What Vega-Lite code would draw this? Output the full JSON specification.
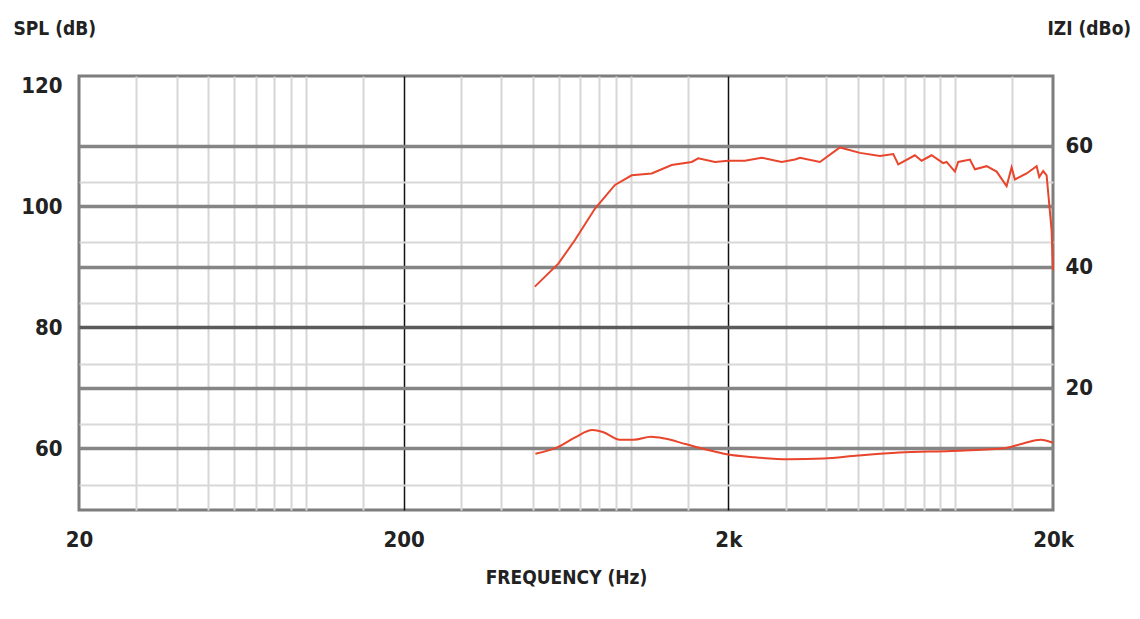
{
  "$schema": "https://vega.github.io/schema/vega-lite/v6.json",
  "width": 974,
  "height": 434,
  "autosize": "none",
  "padding": {"left": 79, "top": 76, "right": 87, "bottom": 109},
  "background": "white",
  "view": {"stroke": "#7d7d7d", "strokeWidth": 3},
  "config": {
    "font": "DejaVu Sans Condensed, Roboto, sans-serif",
    "axis": {
      "labelFont": "DejaVu Sans Condensed, Roboto, sans-serif",
      "labelFontWeight": "bold",
      "labelColor": "#222222",
      "labelFontSize": 22,
      "titleFont": "DejaVu Sans Condensed, Roboto, sans-serif",
      "titleFontWeight": "bold",
      "titleColor": "#222222",
      "titleFontSize": 19
    }
  },
  "datasets": {
    "spl": [
      {"freq": 507, "db": 86.7},
      {"freq": 599, "db": 90.5},
      {"freq": 674, "db": 94.4},
      {"freq": 777, "db": 99.6},
      {"freq": 895, "db": 103.5},
      {"freq": 1008, "db": 105.1},
      {"freq": 1161, "db": 105.4},
      {"freq": 1338, "db": 106.8},
      {"freq": 1542, "db": 107.3},
      {"freq": 1616, "db": 107.9},
      {"freq": 1819, "db": 107.3},
      {"freq": 1999, "db": 107.5},
      {"freq": 2250, "db": 107.5},
      {"freq": 2532, "db": 108.0},
      {"freq": 2918, "db": 107.3},
      {"freq": 3208, "db": 107.7},
      {"freq": 3324, "db": 108.0},
      {"freq": 3829, "db": 107.3},
      {"freq": 4413, "db": 109.7},
      {"freq": 5085, "db": 108.8},
      {"freq": 5860, "db": 108.3},
      {"freq": 6443, "db": 108.6},
      {"freq": 6675, "db": 106.9},
      {"freq": 7510, "db": 108.4},
      {"freq": 7875, "db": 107.5},
      {"freq": 8454, "db": 108.4},
      {"freq": 9180, "db": 107.1},
      {"freq": 9404, "db": 107.3},
      {"freq": 9975, "db": 105.7},
      {"freq": 10212, "db": 107.3},
      {"freq": 11096, "db": 107.7},
      {"freq": 11496, "db": 106.1},
      {"freq": 12490, "db": 106.6},
      {"freq": 13408, "db": 105.7},
      {"freq": 14392, "db": 103.3},
      {"freq": 14912, "db": 106.4},
      {"freq": 15266, "db": 104.4},
      {"freq": 16586, "db": 105.4},
      {"freq": 17806, "db": 106.6},
      {"freq": 18140, "db": 104.8},
      {"freq": 18658, "db": 105.8},
      {"freq": 19114, "db": 105.1},
      {"freq": 19804, "db": 96.0},
      {"freq": 20000, "db": 89.4}
    ],
    "impedance": [
      {"freq": 509, "z": 9.1},
      {"freq": 597, "z": 10.2},
      {"freq": 675, "z": 11.8},
      {"freq": 762, "z": 13.0},
      {"freq": 821, "z": 12.7},
      {"freq": 927, "z": 11.4},
      {"freq": 1023, "z": 11.4},
      {"freq": 1155, "z": 11.9},
      {"freq": 1274, "z": 11.6},
      {"freq": 1476, "z": 10.7},
      {"freq": 1709, "z": 9.8},
      {"freq": 1979, "z": 9.0},
      {"freq": 2407, "z": 8.5},
      {"freq": 3074, "z": 8.2},
      {"freq": 3924, "z": 8.3},
      {"freq": 5010, "z": 8.8},
      {"freq": 6720, "z": 9.3},
      {"freq": 9698, "z": 9.55},
      {"freq": 14000, "z": 9.95},
      {"freq": 16200, "z": 10.8},
      {"freq": 18316, "z": 11.4},
      {"freq": 20000, "z": 10.9}
    ]
  },
  "layer": [
    {
      "data": {"name": "spl"},
      "mark": {"type": "line", "color": "#e8452c", "strokeWidth": 2},
      "encoding": {
        "x": {
          "field": "freq",
          "type": "quantitative",
          "scale": {"type": "log", "domain": [20, 20000], "nice": false},
          "axis": {
            "title": "FREQUENCY (Hz)",
            "values": [20, 30, 40, 50, 60, 70, 80, 90, 100, 150, 200, 300, 400, 500, 600, 700, 800, 900, 1000, 1500, 2000, 3000, 4000, 5000, 6000, 7000, 8000, 9000, 10000, 15000, 20000],
            "labelExpr": "datum.value == 20 ? '20' : datum.value == 200 ? '200' : datum.value == 2000 ? '2k' : datum.value == 20000 ? '20k' : ''",
            "labelFlush": false,
            "labelOverlap": false,
            "labelPadding": 19,
            "ticks": false,
            "domain": false,
            "titlePadding": 18,
            "gridColor": {"condition": {"test": "datum.value == 200 || datum.value == 2000", "value": "#111111"}, "value": "#d6d6d6"},
            "gridWidth": {"condition": {"test": "datum.value == 200 || datum.value == 2000", "value": 1.5}, "value": 2},
            "gridOpacity": {"condition": {"test": "datum.value == 20 || datum.value == 20000", "value": 0}, "value": 1}
          }
        },
        "y": {
          "field": "db",
          "type": "quantitative",
          "scale": {"domain": [49.8, 121.5], "nice": false, "zero": false},
          "axis": {
            "title": "SPL (dB)",
            "titleAngle": 0,
            "titleAlign": "left",
            "titleBaseline": "middle",
            "titleX": -66,
            "titleY": -48,
            "values": [54, 60, 64, 70, 74, 80, 84, 90, 94, 100, 104, 110, 120],
            "labelExpr": "datum.value % 20 == 0 ? datum.label : ''",
            "labelOverlap": false,
            "labelPadding": 17,
            "ticks": false,
            "domain": false,
            "gridColor": {
              "condition": [
                {"test": "datum.value == 80", "value": "#5a5a5a"},
                {"test": "datum.value % 10 == 0", "value": "#858585"}
              ],
              "value": "#d8d8d8"
            },
            "gridWidth": {"condition": {"test": "datum.value % 10 == 0", "value": 3.5}, "value": 2},
            "gridOpacity": {"condition": {"test": "datum.value == 120", "value": 0}, "value": 1}
          }
        }
      }
    },
    {
      "data": {"name": "impedance"},
      "mark": {"type": "line", "color": "#e8452c", "strokeWidth": 2, "interpolate": "monotone"},
      "encoding": {
        "x": {"field": "freq", "type": "quantitative"},
        "y": {
          "field": "z",
          "type": "quantitative",
          "scale": {"domain": [-0.2, 71.5], "nice": false, "zero": false},
          "axis": {
            "orient": "right",
            "title": "IZI (dBo)",
            "titleAngle": 0,
            "titleAlign": "left",
            "titleBaseline": "middle",
            "titleX": -6,
            "titleY": -48,
            "values": [20, 40, 60],
            "labelPadding": 12,
            "grid": false,
            "ticks": false,
            "domain": false
          }
        }
      }
    }
  ],
  "resolve": {"scale": {"y": "independent"}}
}
